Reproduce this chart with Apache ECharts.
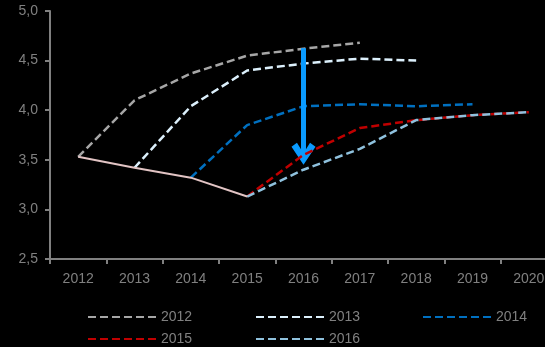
<!DOCTYPE html>
<html><head><meta charset="utf-8">
<script src="https://cdn.jsdelivr.net/npm/echarts@6/dist/echarts.min.js"></script>
<style>html,body{margin:0;padding:0;background:#000;overflow:hidden;width:545px;height:347px;}#c{width:560px;height:347px;}</style>
</head><body><div id="c"></div>
<script>
var categories = ['2012','2013','2014','2015','2016','2017','2018','2019','2020'];
var yTicks = [2.5, 3.0, 3.5, 4.0, 4.5, 5.0];
var actual = [3.53, 3.42, 3.32, 3.13, null, null, null, null, null];
var s2012 = [3.53, 4.10, 4.37, 4.55, 4.62, 4.68, null, null, null];
var s2013 = [null, 3.42, 4.04, 4.40, 4.47, 4.52, 4.50, null, null];
var s2014 = [null, null, 3.32, 3.85, 4.04, 4.06, 4.04, 4.06, null];
var s2015 = [null, null, null, 3.13, 3.55, 3.82, 3.90, 3.95, 3.98];
var s2016 = [null, null, null, 3.13, 3.40, 3.61, 3.90, 3.95, 3.98];
var arrowFrom = ['2016', 4.625];
var arrowTo = ['2016', 3.57];

var names = ['2012','2013','2014','2015','2016'];
var colors = ['#a6a6a6','#dcf0fc','#0070c0','#c00000','#8fc1dd'];
var datas = [s2012, s2013, s2014, s2015, s2016];
var font = 'Liberation Sans, Arial, sans-serif';
var gray = '#808080';

var series = [];
for (var i = 0; i < names.length; i++) {
  series.push({
    name: names[i], type: 'line', data: datas[i], symbol: 'none', connectNulls: false,
    lineStyle: { color: colors[i], width: 2.5, type: [8, 4] }, itemStyle: { color: colors[i] },
    z: 2 + (i === 4 ? 3 : i)
  });
}
series.push({
  name: 'actual', type: 'line', data: actual, symbol: 'none',
  lineStyle: { color: '#e2c4c4', width: 2 }, itemStyle: { color: '#e2c4c4' }, z: 10,
  markLine: {
    silent: true,
    symbol: ['none', 'path://M11 0 L22 18 L17 22 L13 15 L13 24 L9 24 L9 15 L5 22 L0 18 Z'],
    symbolSize: 24,
    symbolKeepAspect: false,
    itemStyle: { color: '#0a9bff' },
    lineStyle: { color: '#0a9bff', width: 5, type: 'solid' }, label: { show: false },
    data: [[{ coord: arrowFrom }, { coord: arrowTo }]]
  }
});

var legendPos = [[82, 305], [250, 305], [417, 305], [82, 327], [250, 327]];
var legends = names.map(function (n, i) {
  return {
    data: [n], left: legendPos[i][0], top: legendPos[i][1], itemWidth: 68, itemHeight: 14,
    itemStyle: { opacity: 0 },
    textStyle: { color: gray, fontSize: 14, fontFamily: font }, selectedMode: false
  };
});

var chart = echarts.init(document.getElementById('c'));
chart.setOption({
  backgroundColor: '#000',
  animation: false,
  legend: legends,
  grid: { left: 50, right: 3, top: 11, bottom: 88, containLabel: false },
  xAxis: {
    type: 'category', data: categories, boundaryGap: true,
    axisLine: { lineStyle: { color: gray, width: 2 } },
    axisTick: { show: true, length: 5, lineStyle: { color: gray, width: 2 } },
    axisLabel: { color: gray, fontSize: 14, fontFamily: font, margin: 13 }
  },
  yAxis: {
    type: 'value', min: yTicks[0], max: yTicks[yTicks.length - 1], interval: 0.5,
    splitLine: { show: false },
    axisLine: { show: true, lineStyle: { color: gray, width: 2 } },
    axisTick: { show: true, length: 5, lineStyle: { color: gray, width: 2 } },
    axisLabel: { color: gray, fontSize: 14, fontFamily: font, margin: 12,
      formatter: function (v) { return v.toFixed(1).replace('.', ','); } }
  },
  series: series
});
</script></body></html>
